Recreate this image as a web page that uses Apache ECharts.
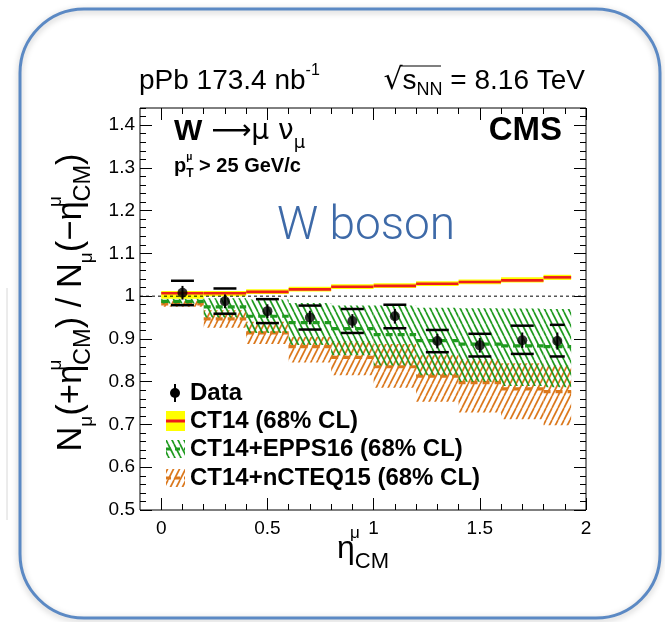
<!DOCTYPE html>
<html>
<head>
<meta charset="utf-8">
<script src="https://cdn.jsdelivr.net/npm/echarts@6/dist/echarts.min.js"></script>
<style>
  html, body { margin: 0; padding: 0; background: #ffffff; }
  #chart { width: 665px; height: 622px; }
</style>
</head>
<body>
<div id="chart"></div>
<script>
// Bin edges in muon pseudorapidity (centre-of-mass frame)
const binEdges = [0, 0.2, 0.4, 0.6, 0.8, 1.0, 1.2, 1.4, 1.6, 1.8, 1.93];

// Measured forward/backward ratio
const dataX     = [0.1, 0.3, 0.5, 0.7, 0.9, 1.1, 1.3, 1.5, 1.7, 1.865];
const dataY     = [1.008, 0.988, 0.965, 0.950, 0.942, 0.953, 0.895, 0.885, 0.897, 0.895];
const dataStat  = [0.016, 0.016, 0.016, 0.016, 0.016, 0.017, 0.017, 0.017, 0.018, 0.020];
const dataSysHi = [1.036, 1.018, 0.993, 0.978, 0.970, 0.980, 0.921, 0.912, 0.931, 0.933];
const dataSysLo = [0.979, 0.959, 0.937, 0.922, 0.914, 0.925, 0.869, 0.859, 0.865, 0.859];

// CT14 (68% CL)
const ct14   = [1.007, 1.007, 1.010, 1.016, 1.022, 1.024, 1.029, 1.033, 1.037, 1.044];
const ct14Lo = [0.994, 1.000, 1.005, 1.011, 1.017, 1.019, 1.024, 1.028, 1.032, 1.038];
const ct14Hi = [1.012, 1.012, 1.016, 1.022, 1.028, 1.030, 1.035, 1.039, 1.044, 1.050];

// CT14+EPPS16 (68% CL)
const epps   = [0.988, 0.975, 0.953, 0.938, 0.924, 0.910, 0.896, 0.888, 0.884, 0.882];
const eppsLo = [0.983, 0.950, 0.914, 0.886, 0.862, 0.838, 0.815, 0.800, 0.790, 0.787];
const eppsHi = [0.994, 0.995, 0.992, 0.984, 0.978, 0.978, 0.973, 0.972, 0.971, 0.970];

// CT14+nCTEQ15 (68% CL)
const ncteq   = [0.982, 0.947, 0.914, 0.882, 0.857, 0.835, 0.813, 0.798, 0.783, 0.777];
const ncteqLo = [0.975, 0.926, 0.888, 0.845, 0.815, 0.786, 0.753, 0.728, 0.712, 0.698];
const ncteqHi = [0.990, 0.967, 0.940, 0.905, 0.895, 0.888, 0.862, 0.853, 0.843, 0.838];

// Axes
const xRange = [-0.1, 2];
const yRange = [0.5, 1.44];
const xTicks = [0, 0.5, 1, 1.5, 2];
const yTicks = [0.5, 0.6, 0.7, 0.8, 0.9, 1, 1.1, 1.2, 1.3, 1.4];
const unityLine = 1;

const FONT = "'Liberation Sans', Arial, Helvetica, sans-serif";
const SYMBOL_FONT = "'DejaVu Sans', 'Liberation Sans', sans-serif";
const GREEN = '#1f9a1f';
const ORANGE = '#db781c';
const RED = '#ee1c1c';
const YELLOW = '#ffff00';

// minor tick positions
const xMinor = [];
for (let i = 1; i < 20; i++) if (i % 5 !== 0) xMinor.push(i / 10);
const yMinor = [];
for (let i = 26; i <= 72; i++) if (i % 5 !== 0) yMinor.push(i / 50);

// diagonal hatch tile: dir > 0 draws '/', dir < 0 draws '\'
function hatch(color, dir) {
  const w = 6, h = 12;
  const c = document.createElement('canvas');
  c.width = w; c.height = h;
  const g = c.getContext('2d');
  g.strokeStyle = color;
  g.lineWidth = 1.7;
  for (let k = -1; k <= 1; k++) {
    g.beginPath();
    if (dir > 0) { g.moveTo(k * w, h); g.lineTo(k * w + w, 0); }
    else { g.moveTo(k * w, 0); g.lineTo(k * w + w, h); }
    g.stroke();
  }
  return { image: c, repeat: 'repeat' };
}
const greenHatch = hatch(GREEN, -1);
const orangeHatch = hatch(ORANGE, 1);

function bandSeries(name, lo, mid, hi, fill, lineColor, lineWidth, dash, z) {
  const data = mid.map((m, i) => [binEdges[i], binEdges[i + 1], lo[i], hi[i], m]);
  return {
    type: 'custom', name, z, data,
    encode: { x: [0, 1], y: [2, 3, 4] },
    renderItem(params, api) {
      const a = api.coord([api.value(0), api.value(3)]);
      const b = api.coord([api.value(1), api.value(2)]);
      const c1 = api.coord([api.value(0), api.value(4)]);
      const c2 = api.coord([api.value(1), api.value(4)]);
      return {
        type: 'group',
        children: [
          { type: 'rect', shape: { x: a[0], y: a[1], width: b[0] - a[0], height: b[1] - a[1] },
            style: { fill: fill, stroke: null } },
          { type: 'line', shape: { x1: c1[0], y1: c1[1], x2: c2[0], y2: c2[1] },
            style: { stroke: lineColor, lineWidth: lineWidth, lineDash: dash } }
        ]
      };
    }
  };
}

const errData = dataX.map((x, i) => {
  const w = binEdges[i + 1] - binEdges[i];
  return [x, dataY[i], dataStat[i], dataSysLo[i], dataSysHi[i], 0.27 * w];
});

const axisCommon = {
  type: 'value', min: xRange[0], max: xRange[1],
  axisLine: { show: false, onZero: false },
  splitLine: { show: false }
};

function xAxisDef(pos, values, len, labels) {
  return Object.assign({}, axisCommon, {
    position: pos,
    axisTick: { show: true, inside: true, length: len, customValues: values,
                lineStyle: { color: '#000', width: 1 } },
    axisLabel: labels ? { show: true, customValues: values, fontSize: 19, color: '#000',
                          fontFamily: FONT, margin: 9 } : { show: false }
  });
}
function yAxisDef(pos, values, len, labels) {
  return {
    type: 'value', min: yRange[0], max: yRange[1], position: pos,
    axisLine: { show: false, onZero: false },
    splitLine: { show: false },
    axisTick: { show: true, inside: true, length: len, customValues: values,
                lineStyle: { color: '#000', width: 1 } },
    axisLabel: labels ? { show: true, customValues: values, fontSize: 19, color: '#000',
                          fontFamily: FONT, margin: 5 } : { show: false }
  };
}

const rt = (size, extra) => Object.assign({ fontSize: size, fontFamily: FONT, color: '#000' }, extra || {});

const xAxes = [
  Object.assign(xAxisDef('bottom', xTicks, 12, true), {
    name: '{n|η}{u|μ}{d|CM}',
    nameLocation: 'middle', nameGap: 15, nameMoveOverlap: false,
    nameTextStyle: {
      rich: {
        n: rt(32, { lineHeight: 48, verticalAlign: 'middle' }),
        u: rt(17, { lineHeight: 17, verticalAlign: 'top', width: 0 }),
        d: rt(22, { lineHeight: 22, verticalAlign: 'bottom' })
      }
    }
  }),
  xAxisDef('bottom', xMinor, 6, false),
  xAxisDef('top', xTicks, 12, false),
  xAxisDef('top', xMinor, 6, false)
];

const yAxes = [
  Object.assign(yAxisDef('left', yTicks, 12, true), {
    name: '{n|N}{s|μ}{n|(+η}{u|μ}{d|CM}{n|) / N}{s|μ}{n|(−η}{u|μ}{d|CM}{n|)}',
    nameLocation: 'middle', nameRotate: 90, nameGap: 44, nameMoveOverlap: false,
    nameTextStyle: {
      padding: [0, 0, 0, 13],
      rich: {
        n: rt(34.5, { lineHeight: 50, verticalAlign: 'middle' }),
        s: rt(19, { lineHeight: 19, verticalAlign: 'bottom' }),
        u: rt(19, { lineHeight: 19, verticalAlign: 'top', width: 0 }),
        d: rt(23.5, { lineHeight: 23.5, verticalAlign: 'bottom' })
      }
    }
  }),
  yAxisDef('left', yMinor, 6, false),
  yAxisDef('right', yTicks, 12, false),
  yAxisDef('right', yMinor, 6, false)
];

const series = [
  bandSeries('CT14+nCTEQ15 (68% CL)', ncteqLo, ncteq, ncteqHi, orangeHatch, ORANGE, 3.2, [7, 5], 2),
  bandSeries('CT14+EPPS16 (68% CL)', eppsLo, epps, eppsHi, greenHatch, GREEN, 3.2, [7, 5], 3),
  bandSeries('CT14 (68% CL)', ct14Lo, ct14, ct14Hi, YELLOW, RED, 2.6, null, 4),
  {
    type: 'line', name: 'unity', z: 5, silent: true, symbol: 'none',
    data: [[xRange[0], unityLine], [xRange[1], unityLine]],
    lineStyle: { color: '#000', width: 1, type: [3, 3] }
  },
  {
    type: 'custom', name: 'Data errors', z: 6, data: errData,
    encode: { x: 0, y: [1, 3, 4] },
    renderItem(params, api) {
      const x = api.value(0), y = api.value(1), s = api.value(2);
      const lo = api.value(3), hi = api.value(4), hw = api.value(5);
      const t = api.coord([x, y + s]), b = api.coord([x, y - s]);
      const h1 = api.coord([x - hw, hi]), h2 = api.coord([x + hw, hi]);
      const l1 = api.coord([x - hw, lo]), l2 = api.coord([x + hw, lo]);
      const st = { stroke: '#000', lineWidth: 2.5 };
      return {
        type: 'group',
        children: [
          { type: 'line', shape: { x1: t[0], y1: t[1], x2: b[0], y2: b[1] }, style: { stroke: '#000', lineWidth: 2 } },
          { type: 'line', shape: { x1: h1[0], y1: h1[1], x2: h2[0], y2: h2[1] }, style: st },
          { type: 'line', shape: { x1: l1[0], y1: l1[1], x2: l2[0], y2: l2[1] }, style: st }
        ]
      };
    }
  },
  {
    type: 'scatter', name: 'Data', z: 7, symbol: 'circle', symbolSize: 10,
    data: dataX.map((x, i) => [x, dataY[i]]),
    itemStyle: { color: '#000' }
  }
];

// legend entries drawn inside the frame
const legendX = 166, legendTextX = 190;
const legendRows = [393, 421, 449, 478];
const legendLabels = ['Data', 'CT14 (68% CL)', 'CT14+EPPS16 (68% CL)', 'CT14+nCTEQ15 (68% CL)'];

const graphic = [
  { type: 'line', z: 0, shape: { x1: 7, y1: 288, x2: 7, y2: 520 }, style: { stroke: '#d8d8d8', lineWidth: 1 } },
  { type: 'rect', z: 1, shape: { x: 20, y: 9, width: 640, height: 609, r: 64 },
    style: { fill: null, stroke: '#5b89c4', lineWidth: 3, shadowBlur: 6, shadowColor: 'rgba(0,0,0,0.25)', shadowOffsetY: 2 } },
  // header
  { type: 'text', z: 10, style: { x: 139, y: 81, text: '{a|pPb 173.4 nb}{b|-1}', verticalAlign: 'middle',
      rich: { a: rt(28, { lineHeight: 36, verticalAlign: 'middle' }), b: rt(16, { lineHeight: 16, verticalAlign: 'top' }) } } },
  { type: 'text', z: 10, style: { x: 585, y: 81, text: '{r|√}{a|s}{b|NN}{a| = 8.16 TeV}', align: 'right', verticalAlign: 'middle',
      rich: { r: rt(30, { lineHeight: 36, verticalAlign: 'middle', fontFamily: SYMBOL_FONT }),
              a: rt(28, { lineHeight: 36, verticalAlign: 'middle' }),
              b: rt(18, { lineHeight: 18, verticalAlign: 'bottom' }) } } },
  // overbar of the square root
  { type: 'line', z: 10, shape: { x1: 400, y1: 66, x2: 441, y2: 66 }, style: { stroke: '#000', lineWidth: 1.2 } },
  // plot labels
  { type: 'text', z: 10, style: { x: 174, y: 132, text: '{w|W}{g| ⟶μ ν}{s|μ}', verticalAlign: 'middle',
      rich: { w: rt(30, { fontWeight: 'bold', lineHeight: 40, verticalAlign: 'middle' }),
              g: rt(28, { lineHeight: 40, verticalAlign: 'middle', fontFamily: SYMBOL_FONT }),
              s: rt(18, { lineHeight: 18, verticalAlign: 'bottom', fontFamily: SYMBOL_FONT }) } } },
  { type: 'text', z: 10, style: { x: 174, y: 166, text: '{p|p}{u|μ}{d|T}{p| > 25 GeV/c}', verticalAlign: 'middle',
      rich: { p: rt(20, { fontWeight: 'bold', lineHeight: 28, verticalAlign: 'middle' }),
              u: rt(10, { fontWeight: 'bold', lineHeight: 10, verticalAlign: 'top', width: 0 }),
              d: rt(12, { fontWeight: 'bold', lineHeight: 12, verticalAlign: 'bottom' }) } } },
  { type: 'text', z: 10, style: { x: 562, y: 131, text: 'CMS', align: 'right', verticalAlign: 'middle',
      fontSize: 33, fontWeight: 'bold', fontFamily: FONT, fill: '#000' } },
  { type: 'text', z: 10, style: { x: 366, y: 227, text: 'W boson', align: 'center', verticalAlign: 'middle',
      fontSize: 46, fontWeight: 300, fontFamily: "Roboto, 'Open Sans', sans-serif", fill: '#3e6aa8' } },
  // legend icons
  { type: 'line', z: 10, shape: { x1: 175, y1: legendRows[0] - 9, x2: 175, y2: legendRows[0] + 9 }, style: { stroke: '#000', lineWidth: 2 } },
  { type: 'circle', z: 10, shape: { cx: 175, cy: legendRows[0], r: 5 }, style: { fill: '#000' } },
  { type: 'rect', z: 10, shape: { x: legendX, y: legendRows[1] - 10, width: 19, height: 20 }, style: { fill: YELLOW } },
  { type: 'line', z: 10, shape: { x1: legendX, y1: legendRows[1], x2: legendX + 19, y2: legendRows[1] }, style: { stroke: RED, lineWidth: 3 } },
  { type: 'rect', z: 10, shape: { x: legendX, y: legendRows[2] - 9, width: 19, height: 18 }, style: { fill: greenHatch } },
  { type: 'line', z: 10, shape: { x1: legendX, y1: legendRows[2], x2: legendX + 19, y2: legendRows[2] }, style: { stroke: GREEN, lineWidth: 3, lineDash: [5, 4] } },
  { type: 'rect', z: 10, shape: { x: legendX, y: legendRows[3] - 9, width: 19, height: 18 }, style: { fill: orangeHatch } },
  { type: 'line', z: 10, shape: { x1: legendX, y1: legendRows[3], x2: legendX + 19, y2: legendRows[3] }, style: { stroke: ORANGE, lineWidth: 3, lineDash: [5, 4] } }
].concat(legendLabels.map((t, i) => ({
  type: 'text', z: 10,
  style: { x: legendTextX, y: legendRows[i], text: t, verticalAlign: 'middle',
           fontSize: 24, fontWeight: 'bold', fontFamily: FONT, fill: '#000' }
})));

const chart = echarts.init(document.getElementById('chart'), null, { renderer: 'canvas' });
chart.setOption({
  backgroundColor: '#ffffff',
  animation: false,
  grid: { left: 140, right: 79, top: 108, bottom: 112, show: true, borderColor: '#000', borderWidth: 1, backgroundColor: 'transparent' },
  xAxis: xAxes,
  yAxis: yAxes,
  series: series,
  graphic: graphic
});
</script>
</body>
</html>
